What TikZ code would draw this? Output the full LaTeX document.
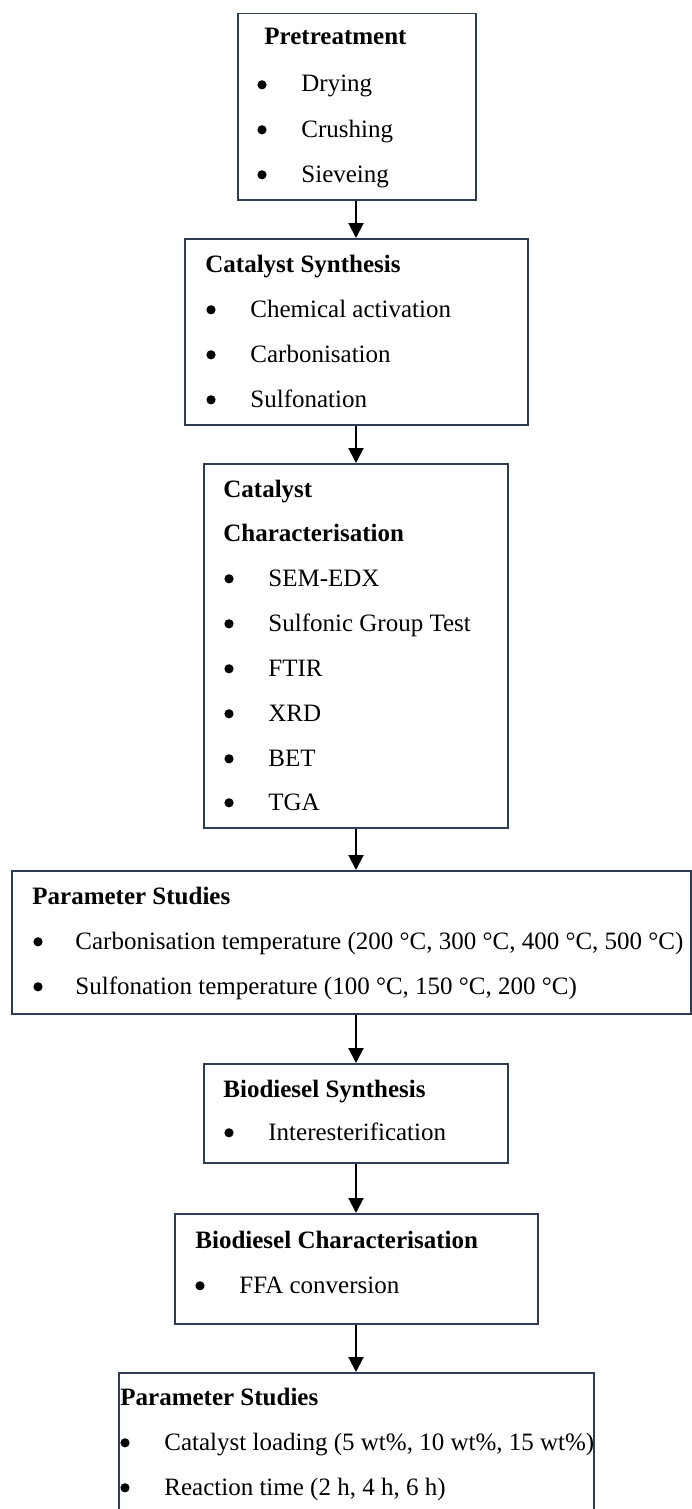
\documentclass[tikz,border=0pt]{standalone}
\usepackage{fontspec}
\setmainfont{Liberation Serif}
\usetikzlibrary{arrows.meta}
\definecolor{boxline}{HTML}{2E3D55}
\tikzset{
  box/.style 2 args={draw=boxline, line width=0.75pt, fill=none, inner sep=0pt,
    minimum width=#1*0.5pt, minimum height=#2*0.5pt, anchor=north west},
  txt/.style={anchor=base west, inner sep=0pt, font=\fontsize{12.5}{15}\selectfont},
  hd/.style={txt, font=\fontsize{12.5}{15}\selectfont\bfseries},
  bul/.style={circle, fill=black, draw=none, inner sep=0pt, minimum size=4.6pt, yshift=3.6pt},
  arr/.style={line width=1pt, -{Triangle[width=7.5pt,length=7.5pt]}}
}
\begin{document}
\begin{tikzpicture}[x=0.5pt,y=-0.5pt]
\useasboundingbox (0,0) rectangle (691,1509);
\coordinate (ax) at (356,0);
% boxes
\node[box={238}{186}] (b1) at (237,13) {};
\node[box={343}{186}] (b2) at (184,238) {};
\node[box={304}{364}] (b3) at (203,463) {};
\node[box={679}{143}] (p1) at (11,870) {};
\node[box={304}{99}]  (s1) at (203,1063) {};
\node[box={363}{110}] (c1) at (174,1213) {};
\node[box={475}{142}] (p2) at (118,1372) {};
% box 1
\node[hd] (t11) at (264,45) {Pretreatment};
\node[bul] (u12) at (262,92) {};  \node[txt] (t12) at (301,92) {Drying};
\node[bul] (u13) at (262,137) {}; \node[txt] (t13) at (301,137) {Crushing};
\node[bul] (u14) at (262,182) {}; \node[txt] (t14) at (301,182) {Sieveing};
% box 2
\node[hd] (t21) at (205,272) {Catalyst Synthesis};
\node[bul] (u22) at (211,317) {}; \node[txt] (t22) at (250,317) {Chemical activation};
\node[bul] (u23) at (211,362) {}; \node[txt] (t23) at (250,362) {Carbonisation};
\node[bul] (u24) at (211,407) {}; \node[txt] (t24) at (250,407) {Sulfonation};
% box 3
\node[hd] (t31) at (223,497) {Catalyst};
\node[hd] (t32) at (223,541) {Characterisation};
\node[bul] (u33) at (229,586) {}; \node[txt] (t33) at (268,586) {SEM-EDX};
\node[bul] (u34) at (229,631) {}; \node[txt] (t34) at (268,631) {Sulfonic Group Test};
\node[bul] (u35) at (229,676) {}; \node[txt] (t35) at (268,676) {FTIR};
\node[bul] (u36) at (229,721) {}; \node[txt] (t36) at (268,721) {XRD};
\node[bul] (u37) at (229,766) {}; \node[txt] (t37) at (268,766) {BET};
\node[bul] (u38) at (229,810) {}; \node[txt] (t38) at (268,810) {TGA};
% parameter studies 1
\node[hd] (t41) at (32,904) {Parameter Studies};
\node[bul] (u42) at (38,949) {}; \node[txt] (t42) at (75,949) {Carbonisation temperature (200 °C, 300 °C, 400 °C, 500 °C)};
\node[bul] (u43) at (38,994) {}; \node[txt] (t43) at (75,994) {Sulfonation temperature (100 °C, 150 °C, 200 °C)};
% biodiesel synthesis
\node[hd] (t51) at (223,1097) {Biodiesel Synthesis};
\node[bul] (u52) at (229,1140) {}; \node[txt] (t52) at (268,1140) {Interesterification};
% biodiesel characterisation
\node[hd] (t61) at (195,1248) {Biodiesel Characterisation};
\node[bul] (u62) at (200,1293) {}; \node[txt] (t62) at (239,1293) {FFA conversion};
% parameter studies 2
\node[hd] (t71) at (120,1405) {Parameter Studies};
\node[bul] (u72) at (125,1450) {}; \node[txt] (t72) at (164,1450) {Catalyst loading (5 wt\%, 10 wt\%, 15 wt\%)};
\node[bul] (u73) at (125,1495) {}; \node[txt] (t73) at (164,1495) {Reaction time (2 h, 4 h, 6 h)};
% arrows
\draw[arr] (b1.south -| ax) -- (b2.north -| ax);
\draw[arr] (b2.south -| ax) -- (b3.north -| ax);
\draw[arr] (b3.south -| ax) -- (p1.north -| ax);
\draw[arr] (p1.south -| ax) -- (s1.north -| ax);
\draw[arr] (s1.south -| ax) -- (c1.north -| ax);
\draw[arr] (c1.south -| ax) -- (p2.north -| ax);
\end{tikzpicture}
\end{document}
